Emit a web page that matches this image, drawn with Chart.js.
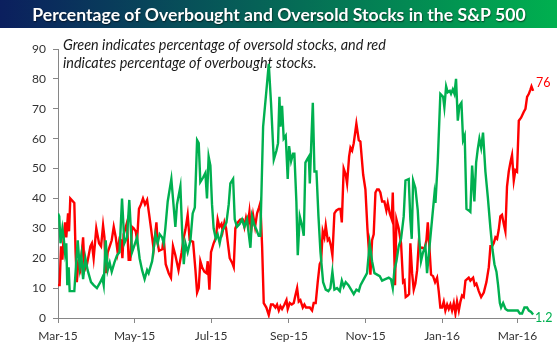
<!DOCTYPE html>
<html><head><meta charset="utf-8">
<script src="https://cdn.jsdelivr.net/npm/chart.js@4.4.0/dist/chart.umd.min.js"></script>
<style>html,body{margin:0;padding:0;background:#fff;}#wrap{width:557px;height:352px;position:relative}</style>
</head><body><div id="wrap"><canvas id="c" width="557" height="352"></canvas></div>
<script>
// x values: days since 1 Mar 2015
const greenDay=[0,1,2,3.5,4.5,5.6,6.6,7.4,8.5,9.3,13,15.7,17.3,18.6,20,21.8,23.6,26.3,28.4,31,33.7,35.3,36.4,38,39.6,41.2,42.8,44.9,47,49,51,52.9,55,56.8,59,61,63,65,67,69,71,72.2,75,77.6,79.4,81,82.9,84.2,85.5,87.4,90.3,91.6,93.5,94.8,97.5,98.8,100.2,101.5,103.3,105.5,107.3,109,110.8,112.1,113.4,115.6,117.4,118.7,120,121.4,122.7,124,125.7,127.2,128.8,130.7,132.6,134.2,136,137.3,139.5,140.8,142.6,144.8,146.6,148.5,150.6,152,153.3,154.6,156.5,158.1,159.9,161.2,163.4,166,167.9,169.7,171.9,174,175.3,176.4,177.2,178.5,179.8,181.4,183,184.1,185.7,187.3,188.3,189.9,191,192.6,194.4,195.8,197.1,198.4,199.8,200.6,201.9,203,204.3,205.9,207.5,209.1,211.2,213.3,215.4,217,218.6,220.2,222.3,224.5,226.1,227.6,229.2,231.4,233.5,235.6,237.7,239.6,241,243.6,246.2,248.3,250.2,252.1,254.2,256.3,258.2,260.8,263.5,265.3,266.7,268,269.6,271.4,273.3,275.4,276.8,279.4,280.7,281.8,282.9,284.7,286.6,287.9,289.2,290.8,292.7,294,296.1,298,299.9,300.7,302.5,304.6,306.8,307.8,309.2,310.5,312.1,313.1,314.5,315.8,317.1,318.5,319.8,321.4,322.7,324,325.4,327.2,328.5,329.9,331.7,333.1,334.4,335.7,337.1,338.6,340.5,342.4,344.5,346.1,347.7,349.3,350.6,352,353,354.6,356.5,358.3,360.4,362.5,364.4,366.3,367.9,369.7,371.6,373.7,375.1,376.9,378.5];
const greenVal=[35,34,25,30,27,22,25,11,17,9,9,26,17,21,13,20,16,12,11,10,12,13.5,11,26,16,18.5,15.5,18.5,21,22,40,25,27,39.5,22,24.5,27,20,16,13,16,15,19,28,25,28,27,25,30,39,46.5,40,30.5,38,44,30,18,25,22,26,35,37,59.5,58.5,45.5,47,48.5,40,54,51,38,30,26.5,28,25,29,30.5,32,38,45,46.5,33,30.5,31.5,33,30.5,33,28,23.5,34,31,29.5,27.5,27.5,64,76,85,72,53,56,58.5,74,64,71,60,61,46.5,57.5,52.5,55,55,39,21,34,31,27.5,52,53,54,45,60,72,49,49,34,22,12,9.5,9,10,15.5,9.5,10,9,12.5,10.5,12,11,9.5,8,9.5,9,11,13,15,25,19,15,14.5,14,12.5,13,13.5,13,10,16,19,24,26.5,34,46,46.5,33,26.5,46,43.5,36,26,19,22,24,15,24.5,33,41.5,38.5,52,75,74,70.5,77.5,75.5,76,75,76.5,75,80,66,71,72,59.5,61,36.5,36,35.5,51,39,52,56.5,60,57,62,49,40.5,30,23,18,15.5,11,5,3.5,5,3,2.5,2.5,2.5,2.5,2.5,1.5,1.5,3.5,3.5,2.5,2,1.2];
const redDay=[0,1.3,2.4,3.5,4.5,5.6,6.6,8,8.8,9.8,12,13,14,15,16.1,17.8,20,21.2,23.1,25.8,27,28.4,30.5,32.7,34.3,35.9,37,38,39.6,41.2,42.8,44.4,46,47.5,49,50.2,51.3,52.3,53.7,55,56.3,57.6,59,60.3,61.9,63,64.5,66.1,67.7,69.3,71,72.5,74.1,76.2,78.4,79.4,80.5,83.1,84.2,85.8,88.2,90,91.6,93.5,96,98.5,100.2,101.5,103.3,104.9,107.6,109.5,110.8,112.1,113.4,114.8,116.6,118.2,119.3,120.6,121.9,124,125.9,127.2,128.6,130.2,131.2,132.6,133.9,135.2,136.8,138.7,140,141.3,143.2,145.3,147.2,148.5,149.8,151.2,152.5,153.8,155.4,157,158.6,160.2,161.2,162.6,163.9,166,167.9,169.7,171.3,173.2,174.5,175.9,177.2,178.5,180.4,182,183,184.6,186.2,187.8,189.1,190.5,191.8,193.1,195,196.3,197.6,198.9,200.6,202.4,203.7,205.3,206.9,208.5,209.6,210.9,212.2,213.3,214.9,216,217.5,218.6,220.2,221.8,223.7,225,226.1,227.6,229.2,230.3,231.9,233,234.3,235.6,237.7,239.6,240.9,243.1,244.9,246.5,248.9,250.2,251.5,252.9,254.2,255.5,256.8,258.2,260,261.6,262.7,264.3,265.9,266.7,267.5,268.5,269.6,271.4,273.3,274.9,276,277,278.6,279.7,280.7,282.1,283.4,284.7,286.1,287.4,288.7,290.3,291.9,293.5,294.6,295.9,297.2,298.8,300.4,302,303.3,304.6,306,307.3,308.6,310,311.3,312.6,313.9,315.3,316.6,317.9,319.3,320.6,321.9,323.2,324.6,325.9,327.2,328.5,330.7,332,333.3,335.2,337.1,339.2,341.3,343.2,344.5,345.8,347.1,348.5,349.8,351.1,352.4,353.7,355.1,356.4,357.7,359.1,360.4,361.7,363.1,364.4,365.7,367.1,368.9,371.1,372.4,373.7,375.1,376.4,377.2,378.5];
const redVal=[11,11,24,19.5,27,32,27,35,29,40,39,38.5,22,12,18,16,27,16,18,24,25,20,30,25,24,31,27,15,22,24,26,30.5,27,22,26.5,26,20,28,30,32,19.5,19.5,30.5,30,29,26,36.5,38,40,38,39.5,35,30,23,32,25,22.5,23,27,18,15,13.5,24,21,16,22,27,29.5,34.5,26,25.5,16,8.5,10,19,17,15.5,15,19,9.5,22,25,27,33,30.5,31.5,29,32,30,25.5,20,18.5,17,30,32,33,33,30.5,33.5,31,35.5,29,34.5,30.5,35,37,38.5,24,5,3.5,1,4.5,4.5,3.5,4.5,2.5,4,3,4.5,6,3,5,4.5,5,7.5,10,5.5,6,3.5,4.5,3.5,3.5,3.5,2.5,5,5,12,18,19,29,27,31,26,26.5,24,21,35,36,36.5,36.5,32,50,48,45,54,57,56,58.5,65,59.5,59,48,43,30,14.5,26,28,42,43,43,42,39,39,36,38.5,35,33,42,28,11,33,30,25,12,12.5,7,7.5,8,25,15,9.5,11.5,16,25,23.5,23.5,23,26,32,23.5,14.5,14,12,13.5,9,3.5,3.5,5.5,2.5,4.5,3,4.5,2.5,5,1.5,5.5,2.5,5.5,7.5,7,12.5,13,13.5,12.5,13.5,11,11.5,9,7,8.5,12,17,24,24,25,27,26.5,29.5,34,34.5,31.5,29,44,49,52,54.5,46,49.5,49,66,67,69,70,74,75,76.5,77.5,76];
const tickDays=[0,61,122,184,245,306,366];
const tickLabels=['Mar-15','May-15','Jul-15','Sep-15','Nov-15','Jan-16','Mar-16'];
const yTicks=[0,10,20,30,40,50,60,70,80,90];
const titleText='Percentage of Overbought and Oversold Stocks in the S&P 500';
const noteLines=['Green indicates percentage of oversold stocks, and red','indicates percentage of overbought stocks.'];
const endLabels={green:'1.2', red:'76'};

const GREEN='#00b050', RED='#ff0000', AXIS='#868686';

const decor={
  id:'decor',
  beforeDraw(chart){
    const ctx=chart.ctx;
    ctx.save();
    const g=ctx.createLinearGradient(0,0,557,0);
    g.addColorStop(0,'#0b1f5e');
    g.addColorStop(1,'#00b04f');
    ctx.fillStyle=g;
    ctx.fillRect(0,0,557,28);
    // title
    let fs=20;
    ctx.font='bold '+fs+'px Lato';
    const w=ctx.measureText(titleText).width;
    fs=fs*494/w;
    ctx.font='bold '+fs.toFixed(2)+'px Lato';
    ctx.textAlign='center';ctx.textBaseline='alphabetic';
    ctx.shadowColor='rgba(0,0,0,0.6)';ctx.shadowBlur=1.5;ctx.shadowOffsetX=0.5;ctx.shadowOffsetY=0.5;
    ctx.fillStyle='#ffffff';
    ctx.fillText(titleText,279,21);
    ctx.restore();
    // note
    ctx.save();
    let ns=14;
    ctx.font='italic '+ns+'px Lato';
    const nw=ctx.measureText(noteLines[0]).width;
    ns=ns*323/nw;
    ctx.font='italic '+ns.toFixed(2)+'px Lato';
    ctx.fillStyle='#1a1a1a';ctx.textAlign='left';ctx.textBaseline='alphabetic';
    ctx.fillText(noteLines[0],63,50);
    ctx.fillText(noteLines[1],63,67.5);
    ctx.restore();
  },
  afterDatasetsDraw(chart){
    const ctx=chart.ctx;
    ctx.save();
    ctx.font='12.5px Lato';ctx.textAlign='left';ctx.textBaseline='middle';
    const mg=chart.getDatasetMeta(0).data; const pg=mg[mg.length-1];
    ctx.fillStyle=GREEN; ctx.fillText(endLabels.green,pg.x+2,pg.y+4);
    const mr=chart.getDatasetMeta(1).data; const pr=mr[mr.length-1];
    ctx.fillStyle=RED; ctx.fillText(endLabels.red,pr.x+3,pr.y-8);
    ctx.restore();
  }
};

new Chart(document.getElementById('c'),{
  type:'line',
  data:{datasets:[
    {label:'Oversold',data:greenDay.map((d,i)=>({x:d,y:greenVal[i]})),borderColor:GREEN,borderWidth:2.4,pointRadius:0,tension:0,fill:false},
    {label:'Overbought',data:redDay.map((d,i)=>({x:d,y:redVal[i]})),borderColor:RED,borderWidth:2.4,pointRadius:0,tension:0,fill:false}
  ]},
  options:{
    responsive:false,animation:false,devicePixelRatio:1,
    layout:{padding:{top:49,left:0,right:22,bottom:0}},
    plugins:{legend:{display:false},tooltip:{enabled:false},title:{display:false}},
    scales:{
      x:{type:'linear',min:0,max:380,
        afterFit(s){s.height=34;},
        afterBuildTicks(s){s.ticks=tickDays.map(v=>({value:v}));},
        ticks:{autoSkip:false,maxRotation:0,padding:6,color:'#333',font:{family:'Lato',size:12},
          callback(v){const i=tickDays.indexOf(v);return i>=0?tickLabels[i]:'';}},
        grid:{drawOnChartArea:false,drawTicks:true,tickLength:5,color:AXIS},
        border:{display:true,color:AXIS}
      },
      y:{min:0,max:90,
        afterFit(s){s.width=58;},
        afterBuildTicks(s){s.ticks=yTicks.map(v=>({value:v}));},
        ticks:{padding:7,color:'#333',font:{family:'Lato',size:12}},
        grid:{drawOnChartArea:false,drawTicks:true,tickLength:5,color:AXIS},
        border:{display:true,color:AXIS}
      }
    }
  },
  plugins:[decor]
});
</script></body></html>
